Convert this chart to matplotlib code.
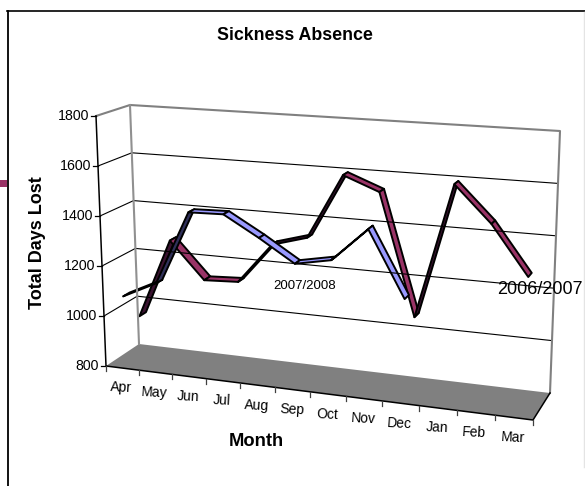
import matplotlib
matplotlib.use('Agg')
import matplotlib.pyplot as plt
from matplotlib.patches import Polygon, Rectangle

plt.rcParams['font.family'] = ['Liberation Sans', 'DejaVu Sans']

months = ['Apr', 'May', 'Jun', 'Jul', 'Aug', 'Sep', 'Oct', 'Nov', 'Dec', 'Jan', 'Feb', 'Mar']
days_0607 = [960, 1282, 1135, 1142, 1303, 1343, 1600, 1545, 1075, 1597, 1457, 1270]
days_0708 = [1078, 1144, 1438, 1442, 1362, 1275, 1302, 1433, 1182]
y_ticks = [800, 1000, 1200, 1400, 1600, 1800]


def mix(a, b, t):
    return a + (b - a) * t


# pixel position of a point inside the 3d box, u along months, v up, d going back
def proj(u, val, d):
    u = u / (u + 1.09 * (1 - u))  # months get wider towards the right
    v = (val - 800) / 1000
    bot_f = (mix(106, 533, u), mix(366, 420, u))
    top_f = (mix(96, 544, u), mix(116, 145, u))
    bot_b = (mix(139, 550, u), mix(344, 393, u))
    top_b = (mix(130, 560, u), mix(105, 131, u))
    front = (mix(bot_f[0], top_f[0], v), mix(bot_f[1], top_f[1], v))
    back = (mix(bot_b[0], top_b[0], v), mix(bot_b[1], top_b[1], v))
    return mix(front[0], back[0], d), mix(front[1], back[1], d)


def ribbon(ax, values, d1, d2, color, dark):
    for i in range(len(values) - 1):
        u0 = (i + 0.5) / 12
        u1 = (i + 1.5) / 12
        rise = values[i + 1] - values[i]
        pts = [proj(u0, values[i], d1), proj(u1, values[i + 1], d1),
               proj(u1, values[i + 1], d2), proj(u0, values[i], d2)]
        ax.add_patch(Polygon(pts, closed=True, fc=dark if rise > 35 else color,
                             ec='black', lw=1.4, joinstyle='round'))


fig = plt.figure(figsize=(5.85, 4.86), dpi=100)
ax = fig.add_axes([0, 0, 1, 1])
ax.set_xlim(0, 585)
ax.set_ylim(486, 0)
ax.axis('off')

# slide frame bits
ax.plot([7.5, 7.5], [11, 486], color='black', lw=1.3)
ax.plot([7, 585], [11.5, 11.5], color='black', lw=1.2)
ax.add_patch(Rectangle((0, 180), 7, 7, fc='#993366', ec='none'))
ax.plot([584, 584], [12, 467], color='#e4e4e4', lw=1)

# floor
floor = [proj(0, 800, 0), proj(1, 800, 0), proj(1, 800, 1), proj(0, 800, 1)]
ax.add_patch(Polygon(floor, closed=True, fc='#808080', ec='none'))

# gridlines on side and back wall
for t in y_ticks[1:-1]:
    xs, ys = zip(proj(0, t, 0), proj(0, t, 1), proj(1, t, 1))
    ax.plot(xs, ys, color='black', lw=0.8)

# wall edges
xs, ys = zip(proj(0, 1800, 0), proj(0, 1800, 1), proj(1, 1800, 1), proj(1, 800, 1))
ax.plot(xs, ys, color='#808080', lw=1.5)
xs, ys = zip(proj(0, 1800, 1), proj(0, 800, 1))
ax.plot(xs, ys, color='#909090', lw=1.5)

# axes lines
xs, ys = zip(proj(0, 1800, 0), proj(0, 800, 0), proj(1, 800, 0), proj(1, 800, 1))
ax.plot(xs, ys, color='black', lw=1.1)

for t in y_ticks:
    x, y = proj(0, t, 0)
    ax.plot([x - 5, x], [y, y], color='black', lw=0.9)
    ax.text(x - 7, y, str(t), ha='right', va='center', fontsize=10.2)

for i in range(13):
    x, y = proj(i / 12, 800, 0)
    ax.plot([x, x], [y, y + 5], color='#404040', lw=0.9)

for i, m in enumerate(months):
    x, y = proj((i + 0.5) / 12, 800, 0)
    ax.text(x - 1, y + 20, m, ha='center', va='center', fontsize=10, rotation=-3)

ribbon(ax, days_0607, 0.57, 0.77, '#993366', '#3a1230')
ribbon(ax, days_0708, 0.10, 0.30, '#9999ff', '#30305a')

ax.text(305, 286, '2007/2008', ha='center', va='center', fontsize=9.5)
ax.text(540, 289, '2006/2007', ha='center', va='center', fontsize=13)
ax.text(295, 36, 'Sickness Absence', ha='center', va='center', fontsize=12.8, fontweight='bold')
ax.text(256, 441, 'Month', ha='center', va='center', fontsize=13.2, fontweight='bold')
ax.text(37.5, 243, 'Total Days Lost', ha='center', va='center', fontsize=13, fontweight='bold', rotation=90)

fig.savefig('out.png', dpi=100)
